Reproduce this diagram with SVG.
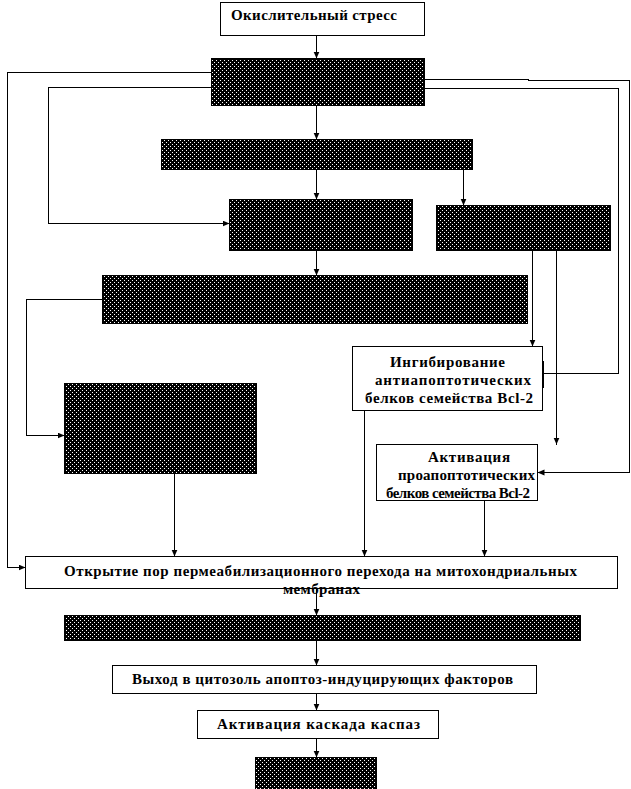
<svg xmlns="http://www.w3.org/2000/svg" width="631" height="789" viewBox="0 0 631 789">
<style>
.box{fill:#fff;stroke:#000;stroke-width:1}
.dark{fill:url(#dots);stroke:#000;stroke-width:1}
.t{font-family:"Liberation Serif","Times New Roman",serif;font-weight:bold;font-size:15px;fill:#000}
.ln{fill:none;stroke:#000;stroke-width:1}
</style>
<defs>
<pattern id="dots" x="0" y="0" width="4" height="4" patternUnits="userSpaceOnUse">
<rect width="4" height="4" fill="#000"/>
<rect x="0" y="0" width="1" height="1" fill="#fff"/>
<rect x="2" y="2" width="1" height="1" fill="#fff"/>
</pattern>
<marker id="ah" markerUnits="userSpaceOnUse" markerWidth="8" markerHeight="8" refX="7" refY="3" orient="auto">
<path d="M0,0 L7,3 L0,6 Z" fill="#000"/>
</marker>
</defs>
<rect width="631" height="789" fill="#fff"/>
<g id="connectors" shape-rendering="crispEdges">
<path class="ln" marker-end="url(#ah)" d="M316.5,35.5 V58.5"/>
<path class="ln" marker-end="url(#ah)" d="M316.5,105.5 V139.5"/>
<path class="ln" marker-end="url(#ah)" d="M316.5,169.5 V199.5"/>
<path class="ln" marker-end="url(#ah)" d="M463.5,169.5 V205.5"/>
<path class="ln" marker-end="url(#ah)" d="M316.5,250.5 V275.5"/>
<path class="ln" marker-end="url(#ah)" d="M211.5,72.5 H7.5 V567.5 H25.5"/>
<path class="ln" marker-end="url(#ah)" d="M211.5,87.5 H48.5 V223.5 H229.5"/>
<path class="ln" marker-end="url(#ah)" d="M424.5,79.5 H528.5 V80.5 H629.5 V472.5 H537.5"/>
<path class="ln" d="M424.5,88.5 H618.5 V373.5 H543"/>
<line x1="541.5" y1="361" x2="541.5" y2="388" stroke="#000" stroke-width="5"/>
<path class="ln" marker-end="url(#ah)" d="M532.5,250.5 V346.5"/>
<path class="ln" marker-end="url(#ah)" d="M556.5,250.5 V444.5"/>
<path class="ln" marker-end="url(#ah)" d="M102.5,299.5 H26.5 V435.5 H64.5"/>
<path class="ln" marker-end="url(#ah)" d="M174.5,473.5 V556.5"/>
<path class="ln" marker-end="url(#ah)" d="M364.5,410.5 V556.5"/>
<path class="ln" marker-end="url(#ah)" d="M484.5,500.5 V556.5"/>
<path class="ln" marker-end="url(#ah)" d="M316.5,588.5 V615.5"/>
<path class="ln" marker-end="url(#ah)" d="M316.5,640.5 V665.5"/>
<path class="ln" marker-end="url(#ah)" d="M316.5,693.5 V710.5"/>
<path class="ln" marker-end="url(#ah)" d="M316.5,738.5 V757.5"/>
</g>
<g id="n1"><rect class="box" x="220.5" y="2.5" width="204" height="33"/><text class="t" x="231" y="20" textLength="166">Окислительный стресс</text></g>
<g id="n2"><rect class="dark" x="211.5" y="58.5" width="213" height="47"/></g>
<g id="n3"><rect class="dark" x="161.5" y="139.5" width="311" height="30"/></g>
<g id="n4"><rect class="dark" x="229.5" y="199.5" width="183" height="51"/></g>
<g id="n5"><rect class="dark" x="436.5" y="205.5" width="174" height="45"/></g>
<g id="n6"><rect class="dark" x="102.5" y="275.5" width="425" height="48"/></g>
<g id="n7"><rect class="box" x="352.5" y="346.5" width="190" height="64"/>
<text class="t" x="390" y="367" textLength="115">Ингибирование</text>
<text class="t" x="375" y="385" textLength="156">антиапоптотических</text>
<text class="t" x="365" y="403" textLength="168">белков семейства Bcl-2</text></g>
<g id="n8"><rect class="dark" x="64.5" y="383.5" width="192" height="90"/></g>
<g id="n9"><rect class="box" x="376.5" y="444.5" width="161" height="56"/>
<text class="t" x="428" y="462" textLength="82">Активация</text>
<text class="t" x="398" y="480" textLength="137">проапоптотических</text>
<text class="t" x="386" y="498" textLength="144">белков семейства Bcl-2</text></g>
<g id="n10"><rect class="box" x="25.5" y="556.5" width="592" height="32"/>
<text class="t" x="64" y="576" textLength="513">Открытие пор пермеабилизационного перехода на митохондриальных</text>
<text class="t" x="283" y="594" textLength="77">мембранах</text></g>
<g id="n11"><rect class="dark" x="64.5" y="615.5" width="516" height="25"/></g>
<g id="n12"><rect class="box" x="112.5" y="665.5" width="424" height="28"/>
<text class="t" x="132" y="684" textLength="381">Выход в цитозоль апоптоз-индуцирующих факторов</text></g>
<g id="n13"><rect class="box" x="197.5" y="710.5" width="241" height="28"/>
<text class="t" x="217" y="728.5" textLength="203">Активация каскада каспаз</text></g>
<g id="n14"><rect class="dark" x="255.5" y="757.5" width="121" height="33"/></g>
</svg>
